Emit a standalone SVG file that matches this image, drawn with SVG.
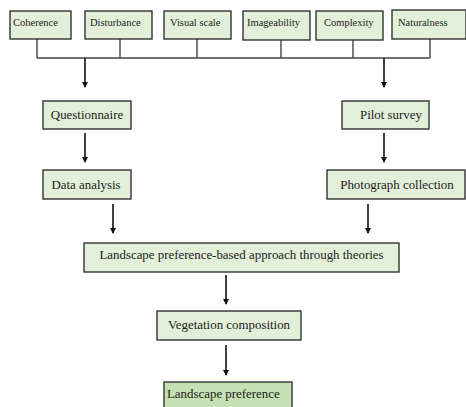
<svg xmlns="http://www.w3.org/2000/svg" width="466" height="407" viewBox="0 0 466 407">
<defs>
<marker id="ah" markerWidth="6" markerHeight="6" refX="5" refY="3" orient="auto" markerUnits="userSpaceOnUse">
<path d="M0,0 L6,3 L0,6 Z" fill="#111"/>
</marker>
<style>
.box{fill:#e2efd9;stroke:#333;stroke-width:1.4}
.box2{fill:#c5e0b3;stroke:#333;stroke-width:1.4}
.s{font-size:10.5px}
.m{font-size:12.9px}
.ln{stroke:#444;stroke-width:1.4;fill:none}
.ar{stroke:#111;stroke-width:1.6;fill:none;marker-end:url(#ah)}
</style>
</defs>
<rect width="466" height="407" fill="#fff"/>
<g id="connectors">
<path class="ln" d="M37,39 V58 M120,39 V58 M197,39 V58 M281,40 V58 M353,40 V58 M430,39 V58 M37,58 H430"/>
<path class="ar" d="M85,58 V87"/>
<path class="ar" d="M384,58 V87"/>
<path class="ar" d="M85,133 V162"/>
<path class="ar" d="M384,133 V162"/>
<path class="ar" d="M113,204 V233"/>
<path class="ar" d="M368,204 V233"/>
<path class="ar" d="M226,275 V304"/>
<path class="ar" d="M226,345 V375"/>
</g>
<g font-family="Liberation Serif, Times New Roman, serif" fill="#222">
<g id="coherence"><rect class="box" x="10" y="11" width="61" height="28"/><text class="s" x="13" y="26">Coherence</text></g>
<g id="disturbance"><rect class="box" x="85" y="11" width="67" height="28"/><text class="s" x="90" y="26">Disturbance</text></g>
<g id="visual-scale"><rect class="box" x="164" y="11" width="67" height="28"/><text class="s" x="170" y="26">Visual scale</text></g>
<g id="imageability"><rect class="box" x="243" y="11" width="67" height="29"/><text class="s" x="247" y="26">Imageability</text></g>
<g id="complexity"><rect class="box" x="316" y="11" width="67" height="29"/><text class="s" x="324" y="26">Complexity</text></g>
<g id="naturalness"><rect class="box" x="392" y="10" width="74" height="29"/><text class="s" x="398" y="26">Naturalness</text></g>
<g id="questionnaire"><rect class="box" x="43" y="101" width="88" height="28"/><text class="m" x="87" y="118.5" text-anchor="middle">Questionnaire</text></g>
<g id="data-analysis"><rect class="box" x="43" y="170" width="88" height="29"/><text class="m" x="86" y="189" text-anchor="middle">Data analysis</text></g>
<g id="pilot-survey"><rect class="box" x="342" y="101" width="87" height="28"/><text class="m" x="391" y="118.5" text-anchor="middle">Pilot survey</text></g>
<g id="photograph-collection"><rect class="box" x="327" y="170" width="138" height="29"/><text class="m" x="397" y="189" text-anchor="middle">Photograph collection</text></g>
<g id="approach"><rect class="box" x="84" y="243" width="315" height="29"/><text class="m" x="241.5" y="258.5" text-anchor="middle">Landscape preference-based approach through theories</text></g>
<g id="vegetation"><rect class="box" x="157" y="311" width="144" height="29"/><text class="m" x="229" y="329" text-anchor="middle">Vegetation composition</text></g>
<g id="landscape-preference"><rect class="box2" x="164" y="382" width="128" height="30"/><text class="m" x="167" y="398">Landscape preference</text></g>
</g>
</svg>
